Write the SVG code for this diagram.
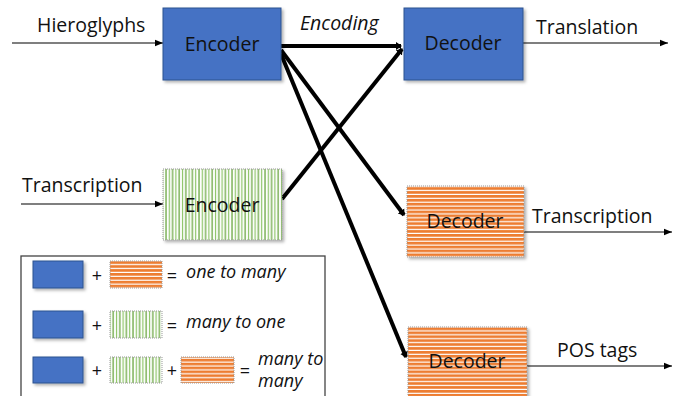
<svg xmlns="http://www.w3.org/2000/svg" width="678" height="396" viewBox="0 0 678 396">
<style>
.t{font-family:"Open Sans","Liberation Sans",sans-serif;font-size:19.5px;fill:#111}
.i{font-style:italic}
.l{font-size:18px}
.blue{fill:#4472C4;stroke:#2F528F;stroke-width:1}
.orange{fill:url(#hstripe);stroke:#999;stroke-width:1;stroke-dasharray:1 1}
.green{fill:url(#vstripe);stroke:#999;stroke-width:1;stroke-dasharray:1 1}
.thin{stroke:#000;stroke-width:1.2;fill:none;marker-end:url(#ah)}
.thick{stroke:#000;stroke-width:4;fill:none;marker-end:url(#ahb)}
</style>
<defs>
<pattern id="hstripe" patternUnits="userSpaceOnUse" width="8" height="3.9">
<rect width="8" height="3.9" fill="#fff"/>
<rect width="8" height="2.7" fill="#ED7D31"/>
</pattern>
<pattern id="vstripe" patternUnits="userSpaceOnUse" width="6.6" height="8">
<rect width="6.6" height="8" fill="#fff"/>
<rect x="0.4" width="1.2" height="8" fill="#5FA032"/>
<rect x="3.7" width="1.2" height="8" fill="#8CC466"/>
</pattern>
<filter id="sh" x="-10%" y="-10%" width="130%" height="130%">
<feDropShadow dx="2" dy="2" stdDeviation="1.5" flood-color="#000" flood-opacity="0.3"/>
</filter>
<marker id="ah" markerUnits="userSpaceOnUse" markerWidth="9" markerHeight="8" refX="8" refY="4" orient="auto">
<path d="M0,0.8 L8,4 L0,7.2 Z" fill="#000"/>
</marker>
<marker id="ahb" markerUnits="userSpaceOnUse" markerWidth="10" markerHeight="10" refX="5" refY="5" orient="auto">
<path d="M0,1 L6,5 L0,9 Z" fill="#000"/>
</marker>
</defs>

<g id="connectors">
<line class="thin" x1="12" y1="43" x2="163" y2="43"/>
<line class="thin" x1="21" y1="204" x2="163" y2="204"/>
<line class="thin" x1="523" y1="43" x2="668" y2="43"/>
<line class="thin" x1="524" y1="232" x2="672" y2="232"/>
<line class="thin" x1="527" y1="366" x2="672" y2="366"/>
<line class="thick" x1="281" y1="46" x2="401" y2="46"/>
<line class="thick" x1="282" y1="199" x2="402" y2="49"/>
<line class="thick" x1="281" y1="50" x2="404" y2="215"/>
<line class="thick" x1="281" y1="54" x2="406" y2="357"/>
</g>

<g id="labels">
<text class="t" x="37" y="32">Hieroglyphs</text>
<text class="t i" x="300" y="30">Encoding</text>
<text class="t" x="536" y="34">Translation</text>
<text class="t" x="22" y="192">Transcription</text>
<text class="t" x="532" y="223">Transcription</text>
<text class="t" x="557" y="357">POS tags</text>
</g>

<g id="encoder-hieroglyphs">
<rect class="blue" x="163" y="8" width="118" height="72" filter="url(#sh)"/>
<text class="t" x="222" y="51" text-anchor="middle">Encoder</text>
</g>
<g id="decoder-translation">
<rect class="blue" x="404" y="8" width="119" height="72" filter="url(#sh)"/>
<text class="t" x="463" y="50" text-anchor="middle">Decoder</text>
</g>
<g id="encoder-transcription">
<rect class="green" x="163" y="169" width="119" height="71" filter="url(#sh)"/>
<text class="t" x="222" y="212" text-anchor="middle">Encoder</text>
</g>
<g id="decoder-transcription">
<rect class="orange" x="407" y="186" width="117" height="71" filter="url(#sh)"/>
<text class="t" x="465" y="228" text-anchor="middle">Decoder</text>
</g>
<g id="decoder-pos">
<rect class="orange" x="408" y="327" width="119" height="80" filter="url(#sh)"/>
<text class="t" x="467" y="368" text-anchor="middle">Decoder</text>
</g>

<g id="legend">
<rect x="21" y="256" width="304" height="150" fill="#fff" stroke="#444" stroke-width="1.3"/>
<rect class="blue" x="33" y="261" width="50" height="27" filter="url(#sh)"/>
<text class="t l" x="97" y="282" text-anchor="middle">+</text>
<rect class="orange" x="110" y="261" width="52" height="27"/>
<text class="t l" x="172" y="282" text-anchor="middle">=</text>
<text class="t i l" x="186" y="278">one to many</text>

<rect class="blue" x="33" y="311" width="50" height="27" filter="url(#sh)"/>
<text class="t l" x="97" y="332" text-anchor="middle">+</text>
<rect class="green" x="110" y="311" width="52" height="27"/>
<text class="t l" x="172" y="332" text-anchor="middle">=</text>
<text class="t i l" x="186" y="328">many to one</text>

<rect class="blue" x="33" y="357" width="50" height="26" filter="url(#sh)"/>
<text class="t l" x="97" y="377" text-anchor="middle">+</text>
<rect class="green" x="110" y="357" width="52" height="26"/>
<text class="t l" x="172" y="377" text-anchor="middle">+</text>
<rect class="orange" x="181" y="357" width="53" height="26"/>
<text class="t l" x="245" y="377" text-anchor="middle">=</text>
<text class="t i l" x="258" y="365">many to</text>
<text class="t i l" x="258" y="387">many</text>
</g>
</svg>
